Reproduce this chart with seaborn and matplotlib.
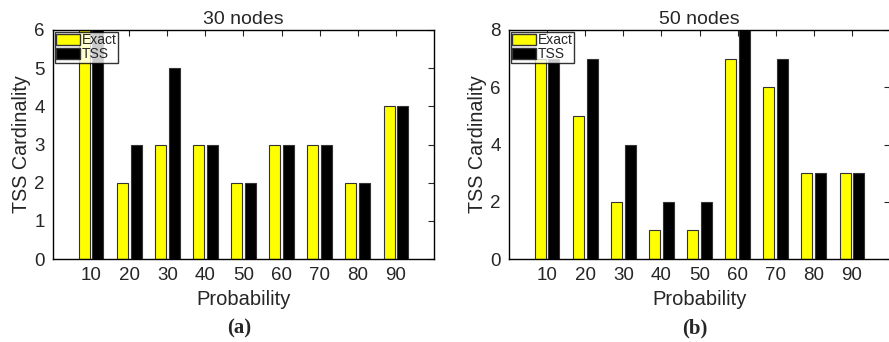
import pandas as pd
import seaborn as sns
import matplotlib.pyplot as plt
from matplotlib.patches import Patch

# Values
probabilities = [10, 20, 30, 40, 50, 60, 70, 80, 90]
exact_30 = [6, 2, 3, 3, 2, 3, 3, 2, 4]
tss_30 = [6, 3, 5, 3, 2, 3, 3, 2, 4]
exact_50 = [7, 5, 2, 1, 1, 7, 6, 3, 3]
tss_50 = [7, 7, 4, 2, 2, 8, 7, 3, 3]

sns.set_style('white')
plt.rcParams['font.family'] = ['Liberation Sans', 'DejaVu Sans']

colors = {'Exact': '#ffff00', 'TSS': '#000000'}


def make_frame(exact, tss):
    # long format for seaborn hue grouping
    df = pd.DataFrame({'Probability': probabilities, 'Exact': exact, 'TSS': tss})
    return df.melt(id_vars='Probability', var_name='Method', value_name='TSS Cardinality')


fig = plt.figure(figsize=(8.89, 3.42), dpi=100)
ax1 = fig.add_axes([53 / 889, 83 / 342, 381 / 889, 229 / 342])
ax2 = fig.add_axes([509 / 889, 83 / 342, 381 / 889, 229 / 342])

panels = [
    (ax1, exact_30, tss_30, '30 nodes', 6, [0, 1, 2, 3, 4, 5, 6], '(a)'),
    (ax2, exact_50, tss_50, '50 nodes', 8, [0, 2, 4, 6, 8], '(b)'),
]

for ax, exact, tss, title, ymax, yticks, tag in panels:
    df = make_frame(exact, tss)
    sns.barplot(data=df, x='Probability', y='TSS Cardinality', hue='Method',
                palette=colors, saturation=1, width=0.72, gap=0.2,
                edgecolor='#333333', linewidth=0.8, ax=ax, legend=False)

    ax.set_xlim(-1, 9)
    ax.set_ylim(0, ymax)
    ax.set_yticks(yticks)
    ax.set_title(title, fontsize=14, pad=4)
    ax.set_xlabel('Probability', fontsize=14.5, labelpad=4)
    ax.set_ylabel('TSS Cardinality', fontsize=14.2, labelpad=2)
    ax.tick_params(axis='both', labelsize=13.5, direction='in', length=4,
                   top=True, right=True, width=0.8, pad=6)
    for s in ax.spines.values():
        s.set_visible(True)
        s.set_color('black')
        s.set_linewidth(1.0)

    handles = [Patch(facecolor=colors['Exact'], edgecolor='#333333', label='Exact'),
               Patch(facecolor=colors['TSS'], edgecolor='#333333', label='TSS')]
    leg = ax.legend(handles=handles, loc='upper left', fontsize=10, frameon=True,
                    fancybox=False, borderpad=0.1, labelspacing=0.0,
                    handlelength=1.7, handleheight=0.8, handletextpad=0.15,
                    borderaxespad=0.15)
    leg.get_frame().set_edgecolor('black')
    leg.get_frame().set_linewidth(1.0)

    # panel tag below the axis
    box = ax.get_position()
    fig.text((box.x0 + box.x1) / 2 - 0.005, (342 - 328) / 342, tag, ha='center',
             va='center', fontsize=15, fontweight='bold', family='Liberation Serif')

fig.savefig('out.png', dpi=100)
